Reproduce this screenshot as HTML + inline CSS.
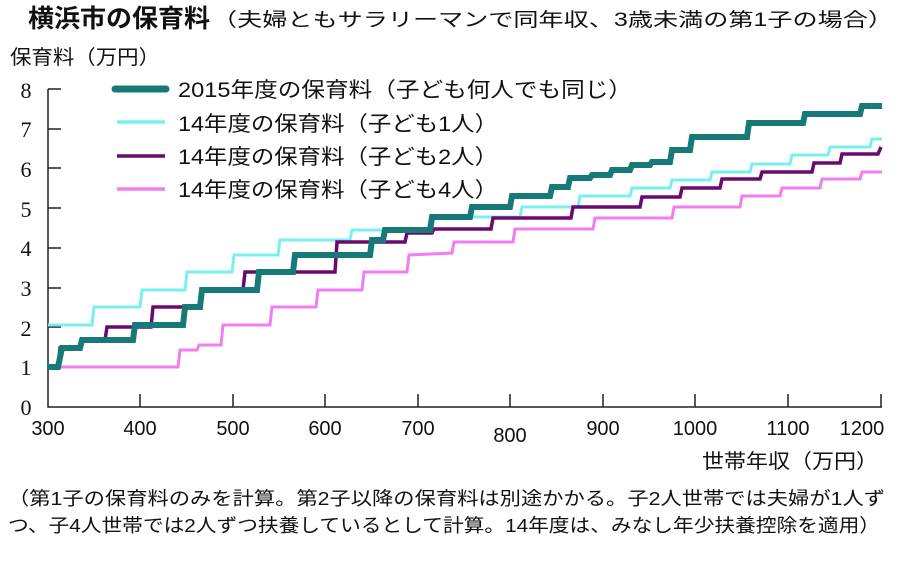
<!DOCTYPE html>
<html><head><meta charset="utf-8"><style>
body{margin:0;width:900px;height:557px;background:#fff;overflow:hidden}
text{font-family:"Liberation Sans","Noto Sans CJK JP",sans-serif;fill:#111}
</style></head><body>
<svg width="900" height="557" viewBox="0 0 900 557">
<text x="28" y="27" font-size="25" font-weight="bold" textLength="182" lengthAdjust="spacingAndGlyphs">横浜市の保育料</text>
<text x="212" y="26" font-size="19" textLength="681" lengthAdjust="spacingAndGlyphs">（夫婦ともサラリーマンで同年収、3歳未満の第1子の場合）</text>
<text x="10" y="64" font-size="20" textLength="150" lengthAdjust="spacingAndGlyphs">保育料（万円）</text>
<g font-size="22" text-anchor="middle">
<text style="font-family:'Liberation Serif',serif" x="26" y="415">0</text><text style="font-family:'Liberation Serif',serif" x="26" y="375">1</text><text style="font-family:'Liberation Serif',serif" x="26" y="336">2</text><text style="font-family:'Liberation Serif',serif" x="26" y="296">3</text><text style="font-family:'Liberation Serif',serif" x="26" y="256">4</text><text style="font-family:'Liberation Serif',serif" x="26" y="217">5</text><text style="font-family:'Liberation Serif',serif" x="26" y="177">6</text><text style="font-family:'Liberation Serif',serif" x="26" y="137">7</text><text style="font-family:'Liberation Serif',serif" x="26" y="98">8</text>
</g>
<g stroke="#222" stroke-width="1.5" fill="none">
<path d="M48,89V407H882"/>
<path d="M48,89H61M48,129H61M48,168H61M48,208H61M48,248H61M48,288H61M48,327H61M48,367H61"/>
<path d="M140,407V394M233,407V394M325,407V394M418,407V394M510,407V394M603,407V394M695,407V394M788,407V394M881,407V394"/>
</g>
<g font-size="20" text-anchor="middle">
<text x="48" y="435">300</text><text x="140" y="435">400</text><text x="233" y="435">500</text><text x="325" y="435">600</text><text x="418" y="435">700</text><text x="510" y="442">800</text><text x="603" y="435">900</text><text x="695" y="435">1000</text><text x="788" y="435">1100</text><text x="862" y="435">1200</text>
</g>
<text x="702" y="468" font-size="20" textLength="176" lengthAdjust="spacingAndGlyphs">世帯年収（万円）</text>
<g fill="none" stroke-linejoin="miter">
<polyline stroke="#f07ef0" stroke-width="3" points="55,367 178,367 180,350 197,350 199,345 221,345 223,325 270,325 272,307 316,307 318,290 362,290 364,272 407,272 409,255 452,253 454,242 513,242 515,229 593,229 595,218 672,218 674,207 740,207 742,196 780,196 782,188 820,188 822,179 860,179 862,172 882,172"/>
<polyline stroke="#78f0f0" stroke-width="3" points="48,325 92,325 94,307 140,307 142,290 185,290 187,272 232,272 234,255 278,255 280,240 350,240 352,230 432,230 434,217 520,217 522,207 578,207 580,196 630,196 632,188 670,188 672,180 710,180 712,172 750,172 752,164 790,164 792,155 828,155 830,147 870,147 872,139 882,139"/>
<polyline stroke="#6a0a6e" stroke-width="3.5" points="48,367 58,367 60,348 80,348 82,340 105,340 107,327 151,327 153,307 200,307 202,290 243,290 245,272 335,272 337,242 405,242 407,233 432,233 434,229 491,229 493,218 571,218 573,207 640,207 642,197 680,197 682,188 720,188 722,179 760,179 762,172 812,172 814,163 840,163 842,154 878,154 881,147"/>
<polyline stroke="#177a78" stroke-width="6" points="47,367 58,367 62,348 80,348 82,340 133,340 135,325 183,325 185,307 200,307 202,290 257,290 259,272 293,272 295,255 370,255 372,240 383,240 385,230 430,230 432,217 470,217 472,207 510,207 512,196 550,196 552,187 568,187 570,178 590,178 592,175 610,175 612,170 630,170 632,165 650,165 652,162 670,162 672,150 690,150 692,137 747,137 749,123 803,123 805,114 860,114 862,106 882,106"/>
<line x1="115" y1="89" x2="166" y2="89" stroke="#177a78" stroke-width="7" stroke-linecap="round"/>
<line x1="117" y1="122" x2="165" y2="122" stroke="#78f0f0" stroke-width="3.5"/>
<line x1="117" y1="156" x2="165" y2="156" stroke="#6a0a6e" stroke-width="3.5"/>
<line x1="117" y1="189" x2="165" y2="189" stroke="#f07ef0" stroke-width="3.5"/>
</g>
<g font-size="21">
<text x="178" y="97" textLength="454" lengthAdjust="spacingAndGlyphs">2015年度の保育料（子ども何人でも同じ）</text>
<text x="178" y="131" textLength="320" lengthAdjust="spacingAndGlyphs">14年度の保育料（子ども1人）</text>
<text x="178" y="164" textLength="320" lengthAdjust="spacingAndGlyphs">14年度の保育料（子ども2人）</text>
<text x="178" y="197" textLength="320" lengthAdjust="spacingAndGlyphs">14年度の保育料（子ども4人）</text>
</g>
<g font-size="18.5">
<text x="8" y="505" textLength="877" lengthAdjust="spacingAndGlyphs">（第1子の保育料のみを計算。第2子以降の保育料は別途かかる。子2人世帯では夫婦が1人ず</text>
<text x="8" y="532" textLength="872" lengthAdjust="spacingAndGlyphs">つ、子4人世帯では2人ずつ扶養しているとして計算。14年度は、みなし年少扶養控除を適用）</text>
</g>
</svg>
</body></html>
